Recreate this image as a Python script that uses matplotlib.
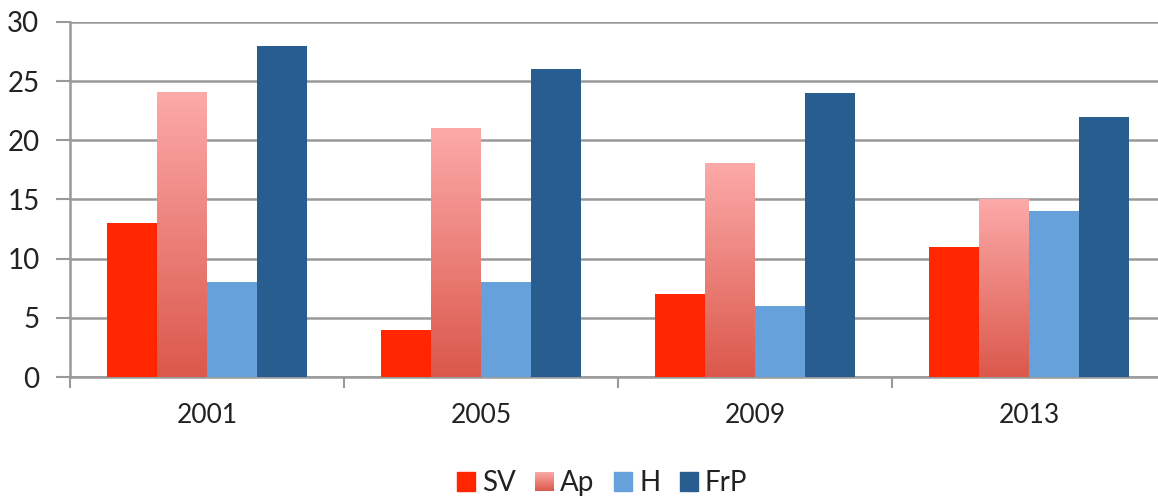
import numpy as np
import matplotlib
matplotlib.use("Agg")
import matplotlib.pyplot as plt
from matplotlib.legend_handler import HandlerBase
from matplotlib.image import BboxImage
from matplotlib.transforms import Bbox, TransformedBbox
from matplotlib.patches import Patch

plt.rcParams['font.family'] = ['Lato', 'DejaVu Sans']

# data
years = ['2001', '2005', '2009', '2013']
parties = ['SV', 'Ap', 'H', 'FrP']
sv = [13, 4, 7, 11]
ap = [24, 21, 18, 15]
h = [8, 8, 6, 14]
frp = [28, 26, 24, 22]

col_sv = '#FF2600'
col_h = '#66A1DC'
col_frp = '#285D8F'
ap_top = np.array([252, 170, 169]) / 255
ap_bot = np.array([219, 88, 75]) / 255

def grad_img(n=256):
    t = np.linspace(0, 1, n)[:, None]
    rgb = ap_top[None, :] * (1 - t) + ap_bot[None, :] * t
    return rgb[:, None, :]

fig = plt.figure(figsize=(11.58, 4.99), dpi=100)
ax = fig.add_axes([70 / 1158, 1 - 377 / 499, 1096 / 1158, 355 / 499])

x = np.arange(len(years))
w = 0.182
offs = [-1.5 * w, -0.5 * w, 0.5 * w, 1.5 * w]

ax.bar(x + offs[0], sv, w, color=col_sv, zorder=3)
ap_bars = ax.bar(x + offs[1], ap, w, color='none', zorder=3)
ax.bar(x + offs[2], h, w, color=col_h, zorder=3)
ax.bar(x + offs[3], frp, w, color=col_frp, zorder=3)

# gradient fill for Ap bars
img = grad_img()
for b in ap_bars:
    x0, y0 = b.get_x(), b.get_y()
    ax.imshow(img, extent=[x0, x0 + b.get_width(), y0, y0 + b.get_height()],
              aspect='auto', zorder=3, interpolation='bilinear')

ax.set_xlim(-0.5, 3.5)
ax.set_ylim(0, 30)
ax.set_yticks(range(0, 31, 5))
ax.yaxis.grid(True, color='#999999', linewidth=1.8, zorder=0)
ax.set_axisbelow(True)

ax.set_xticks(x)
ax.set_xticklabels(years)
ax.set_xticks(np.arange(-0.5, 4, 1), minor=True)
ax.tick_params(axis='x', which='major', length=0, pad=19, labelsize=19, labelcolor='#222222')
ax.tick_params(axis='x', which='minor', length=8, width=1.5, color='#999999', direction='out')
ax.tick_params(axis='y', length=10, width=1.5, color='#999999', pad=12, labelsize=20, labelcolor='#222222')

for s in ['top', 'right']:
    ax.spines[s].set_visible(False)
for s in ['left', 'bottom']:
    ax.spines[s].set_color('#999999')
    ax.spines[s].set_linewidth(1.8)


class GradHandler(HandlerBase):
    def create_artists(self, legend, orig_handle, xdescent, ydescent,
                       width, height, fontsize, trans):
        bb = Bbox.from_bounds(-xdescent, -ydescent, width, height)
        im = BboxImage(TransformedBbox(bb, trans), interpolation='bilinear')
        im.set_data(grad_img())
        return [im]


handles = [Patch(color=col_sv), Patch(color='none'), Patch(color=col_h), Patch(color=col_frp)]
leg = fig.legend(handles, parties, loc='lower center', bbox_to_anchor=(0.52, -0.045),
                 ncol=4, frameon=False, fontsize=20, handlelength=0.65, handleheight=0.65,
                 handletextpad=0.25, columnspacing=0.7,
                 handler_map={handles[1]: GradHandler()})
for t in leg.get_texts():
    t.set_color('#222222')

fig.savefig('out.png', dpi=100)
